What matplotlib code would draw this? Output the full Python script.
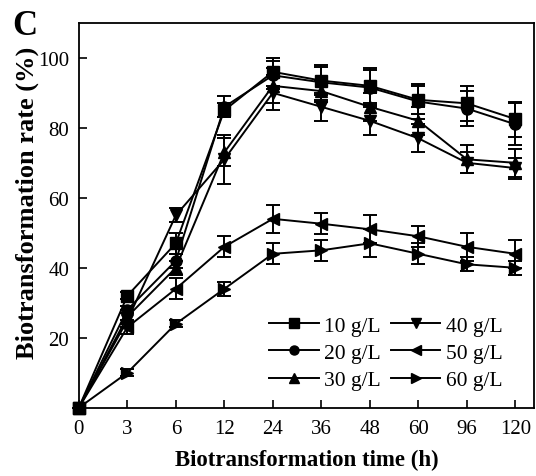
import matplotlib
matplotlib.use("Agg")
import matplotlib.pyplot as plt
from matplotlib.lines import Line2D
import numpy as np

# time points (h), plotted as evenly spaced categories
times = ["0", "3", "6", "12", "24", "36", "48", "60", "96", "120"]

labels = ["10 g/L", "20 g/L", "30 g/L", "40 g/L", "50 g/L", "60 g/L"]
markers = ["s", "o", "^", "v", "<", ">"]

rate_10 = [0, 32, 47, 85, 96, 93.5, 92, 88, 87, 82.5]
rate_20 = [0, 28, 42, 86, 95, 93, 91.5, 87.5, 85.5, 81]
rate_30 = [0, 26, 40, 73, 92, 90.5, 86, 82, 71, 70]
rate_40 = [0, 25, 55, 71, 90, 86, 82, 77, 70, 68.5]
rate_50 = [0, 23, 34, 46, 54, 52.6, 51, 49, 46, 44]
rate_60 = [0, 10, 24, 34, 44, 45, 47, 44, 41, 40]

err_10 = [0, 1, 3, 2, 4, 4, 5, 4, 5, 5]
err_20 = [0, 1, 2, 3, 4, 5, 5, 5, 5, 6]
err_30 = [0, 2, 2, 4, 5, 3, 4, 4, 4, 4]
err_40 = [0, 2, 2, 7, 5, 4, 4, 4, 3, 3]
err_50 = [0, 2, 3, 3, 4, 3, 4, 3, 4, 4]
err_60 = [0, 1, 1, 2, 3, 3, 4, 3, 2, 2]

rates = [rate_10, rate_20, rate_30, rate_40, rate_50, rate_60]
errs = [err_10, err_20, err_30, err_40, err_50, err_60]

plt.rcParams['font.family'] = ['Liberation Serif', 'DejaVu Serif']

fig = plt.figure(figsize=(5.36, 4.77), dpi=100)
ax = fig.add_axes([0.147, 0.143, 0.849, 0.807])

x = np.arange(len(times))
for y, e, m in zip(rates, errs, markers):
    ax.errorbar(x, y, yerr=e, color='black', marker=m, markersize=8,
                linewidth=1.4, elinewidth=1.4, capsize=5, capthick=1.4,
                clip_on=False, zorder=3)

ax.set_xlim(0, 9.38)
ax.set_ylim(0, 110)
ax.set_xticks(x)
ax.set_xticklabels(times)
ax.set_yticks([20, 40, 60, 80, 100])
ax.tick_params(direction='in', length=6, width=1.2, labelsize=15)
ax.tick_params(axis='x', pad=8)
ax.tick_params(axis='y', pad=7)
for s in ax.spines.values():
    s.set_linewidth(1.3)

ax.set_xlabel("Biotransformation time (h)", fontsize=16.5, fontweight='bold',
              labelpad=8)
ax.set_ylabel("Biotransformation rate (%)", fontsize=19, fontweight='bold')
ax.yaxis.set_label_coords(-0.088, 0.535)

# legend shows plain line + small marker, no error bars
handles = [Line2D([], [], color='black', marker=m, markersize=6.5, linewidth=1.4)
           for m in markers]
ax.legend(handles, labels, ncol=2, frameon=False, fontsize=15.5,
          loc='upper left', bbox_to_anchor=(0.40, 0.262), borderaxespad=0,
          handlelength=2.3, handletextpad=0.25, columnspacing=0.45,
          labelspacing=0.34)

fig.text(0.022, 0.927, "C", fontsize=25, fontweight='bold')

fig.savefig("out.png", dpi=100)
